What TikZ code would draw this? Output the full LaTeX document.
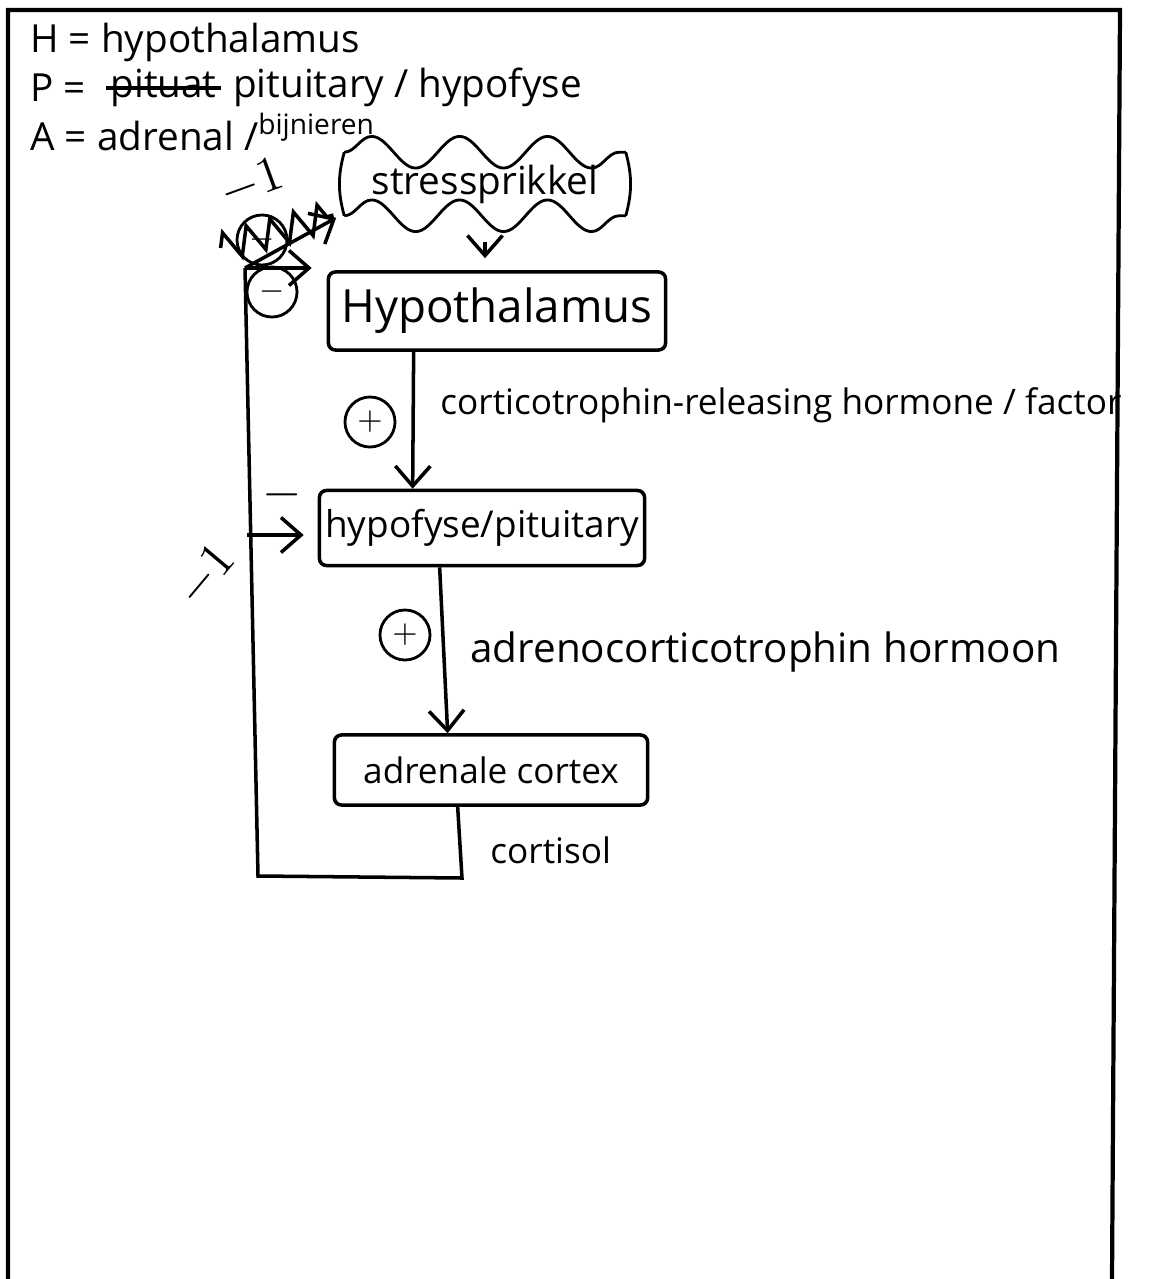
\documentclass[tikz,border=0pt]{standalone}
\usepackage{fontspec}
\setmainfont{Open Sans}
\usetikzlibrary{calc,decorations.pathmorphing,arrows.meta}
\tikzset{
  organ/.style = {draw, line width = 1pt, rounded corners = 2pt, inner sep = 0pt},
  sign/.style = {circle, draw, line width = 0.8pt, inner sep = 0pt, minimum size = 0.5cm, font = \small},
  hormone/.style = {anchor = west, font = \fontsize{10}{12}\selectfont},
  legend/.style = {anchor = west, font = \fontsize{11}{13}\selectfont},
  flow/.style = {line width = 1pt, -{Straight Barb[length=2mm, width=3.5mm]}},
  wave/.style = {line width = 0.8pt, decorate, decoration = {snake, segment length = 25pt, amplitude = 4.5pt}},
}
\begin{document}
\begin{tikzpicture}[x = 0.01cm, y = -0.01cm]
		\useasboundingbox (0,0) rectangle (1172,1279);
		\draw [line width = 1.2pt] (8,1279) -- (8,10) -- (1120,10) -- (1112,1279);
		\node [legend](legend_h) at (18,42) {H = hypothalamus};
		\node [legend](legend_p) at (18,88) {P =};
		\node [legend, inner sep = 1pt](legend_p_struck) at ($(legend_p.east)+(8,0)$) {pituat};
		\draw [line width = 1pt] (legend_p_struck.west) -- (legend_p_struck.east);
		\node [legend, anchor = base west](legend_p_rest) at (legend_p_struck.base east) {pituitary / hypofyse};
		\node [legend](legend_a) at (18,132) {A = adrenal /\raisebox{0.8ex}{\footnotesize bijnieren}};
		\node [minimum width = 2.8cm, minimum height = 0.55cm, font = \fontsize{11}{13}\selectfont](stress) at (485,184) {stressprikkel};
		\draw [wave] (stress.north west) -- (stress.north east);
		\draw [wave] (stress.south west) -- (stress.south east);
		\draw [line width = 0.8pt] (stress.north west) to [bend right = 15] (stress.south west);
		\draw [line width = 0.8pt] (stress.north east) to [bend left = 15] (stress.south east);
		\node [organ, minimum width = 3.37cm, minimum height = 0.78cm, font = \fontsize{13}{15}\selectfont](hypo) at (497,311) {Hypothalamus};
		\node [organ, minimum width = 3.25cm, minimum height = 0.75cm, font = \fontsize{10.5}{12}\selectfont](pit) at (482,528) {hypofyse/pituitary};
		\node [organ, minimum width = 3.13cm, minimum height = 0.7cm, font = \fontsize{10}{12}\selectfont](adr) at (491,770) {adrenale cortex};
		\draw [flow, shorten <= 2.6mm, shorten >= 1.2mm] (stress.south) -- (hypo.north -| stress.south);
		\coordinate (crh_top) at ($(hypo.south west)+(87,0)$);
		\coordinate (crh_end) at ($(pit.north west)+(95,0)$);
		\draw [flow] (crh_top) -- (crh_end);
		\node [sign](crh_plus) at (370,422) {$+$};
		\node [hormone](crh) at (428,405) {corticotrophin-releasing hormone / factor};
		\coordinate (acth_top) at ($(pit.south west)+(122,0)$);
		\coordinate (acth_end) at ($(adr.north west)+(115,0)$);
		\draw [flow] (acth_top) -- (acth_end);
		\node [sign](acth_plus) at (405,635) {$+$};
		\node [hormone, font = \fontsize{11.5}{14}\selectfont](acth) at (458,652) {adrenocorticotrophin hormoon};
		\coordinate (cort_top) at ($(adr.south west)+(125,0)$);
		\coordinate (loop_br) at (462,878);
		\coordinate (loop_bl) at (258,876);
		\coordinate (loop_tl) at (245,268);
		\coordinate (loop_mid) at (247,535);
		\draw [line width = 1pt] (cort_top) -- (loop_br) -- (loop_bl) -- (loop_tl);
		\node [hormone](cortisol) at (478,850) {cortisol};
		\draw [flow] (loop_tl) -- ($(hypo.west |- loop_tl)+(-15,0)$);
		\node [sign](fb_hypo_minus) at (272,292) {$-$};
		\draw [flow] (loop_tl) -- ($(stress.south west)+(-8,2)$);
		\node [sign](fb_stress_minus) at (262,240) {$-$};
		\draw [line width = 1pt, decorate, decoration = {zigzag, segment length = 7pt, amplitude = 4pt}] ($(fb_stress_minus.west)+(-15,8)$) -- ($(fb_stress_minus.east)+(45,-25)$);
		\node [rotate = 20, font = \Large](fb_stress_gain) at (252,184) {$-1$};
		\draw [flow] (loop_mid) -- ($(pit.west |- loop_mid)+(-14,0)$);
		\node [font = \Large](fb_pit_minus) at (282,495) {$-$};
		\node [rotate = 50, font = \Large](fb_pit_gain) at (206,576) {$-1$};
\end{tikzpicture}
\end{document}
